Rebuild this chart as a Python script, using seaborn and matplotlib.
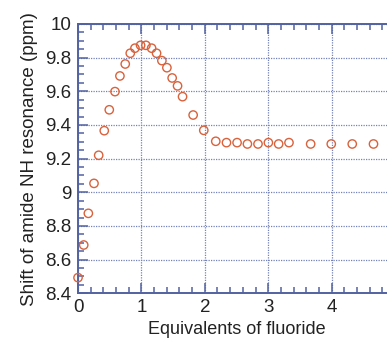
import numpy as np
import pandas as pd
import matplotlib.pyplot as plt
import seaborn as sns
from matplotlib.ticker import MultipleLocator

sns.set_style("ticks")
plt.rcParams['font.family'] = ['Liberation Sans', 'DejaVu Sans']

# equivalents of fluoride vs. amide NH shift (ppm)
equiv = [0.0, 0.09, 0.163, 0.252, 0.326, 0.414, 0.493, 0.583, 0.661, 0.745,
         0.824, 0.898, 0.987, 1.071, 1.161, 1.239, 1.323, 1.402, 1.485, 1.57,
         1.649, 1.816, 1.984, 2.173, 2.342, 2.509, 2.672, 2.839, 3.003, 3.165,
         3.328, 3.67, 3.995, 4.326, 4.661]
shift = [8.493, 8.687, 8.875, 9.053, 9.22, 9.366, 9.49, 9.598, 9.691, 9.762,
         9.826, 9.856, 9.873, 9.873, 9.856, 9.826, 9.782, 9.74, 9.679, 9.632,
         9.568, 9.459, 9.368, 9.303, 9.295, 9.295, 9.287, 9.287, 9.295, 9.287,
         9.295, 9.287, 9.287, 9.287, 9.287]
xticks = [0, 1, 2, 3, 4]
yticks = [8.4, 8.6, 8.8, 9, 9.2, 9.4, 9.6, 9.8, 10]
ytick_labels = ['8.4', '8.6', '8.8', '9', '9.2', '9.4', '9.6', '9.8', '10']

df = pd.DataFrame({'equiv': equiv, 'shift': shift})

axis_col = '#5262a0'
grid_col = '#7482b8'
pt_col = '#d8623c'

fig = plt.figure(figsize=(3.87, 3.38), dpi=100)
ax = fig.add_axes([0.2016, 0.1322, 0.819, 0.797])

sns.scatterplot(data=df, x='equiv', y='shift', ax=ax, marker='o', s=36,
                facecolor='none', edgecolor=pt_col, linewidth=1.0, zorder=3)
for coll in ax.collections:
    coll.set_clip_on(False)

ax.set_xlim(0, 5)
ax.set_ylim(8.4, 10)
ax.set_xticks(xticks)
ax.set_xticklabels([str(v) for v in xticks])
ax.xaxis.set_minor_locator(MultipleLocator(0.2))
ax.set_yticks(yticks)
ax.set_yticklabels(ytick_labels)
ax.yaxis.set_minor_locator(MultipleLocator(0.05))

ax.grid(True, which='major', linestyle=(0, (1, 1)), color=grid_col, linewidth=0.9)
ax.tick_params(which='both', direction='in', top=True, right=False, colors=axis_col,
               labelcolor='#222222', labelsize=13.5)
ax.tick_params(axis='x', which='major', length=7, width=1.1, pad=4)
ax.tick_params(axis='y', which='major', length=7, width=1.1, pad=5)
ax.tick_params(which='minor', length=4, width=1.1)
for side in ['left', 'bottom', 'top']:
    ax.spines[side].set_color(axis_col)
    ax.spines[side].set_linewidth(1.4)
ax.spines['right'].set_visible(False)

ax.set_xlabel('Equivalents of fluoride', fontsize=13, color='#222222', labelpad=4)
ax.set_ylabel('Shift of amide NH resonance (ppm)', fontsize=13.5, color='#222222', labelpad=5)

fig.savefig('out.png', dpi=100)
